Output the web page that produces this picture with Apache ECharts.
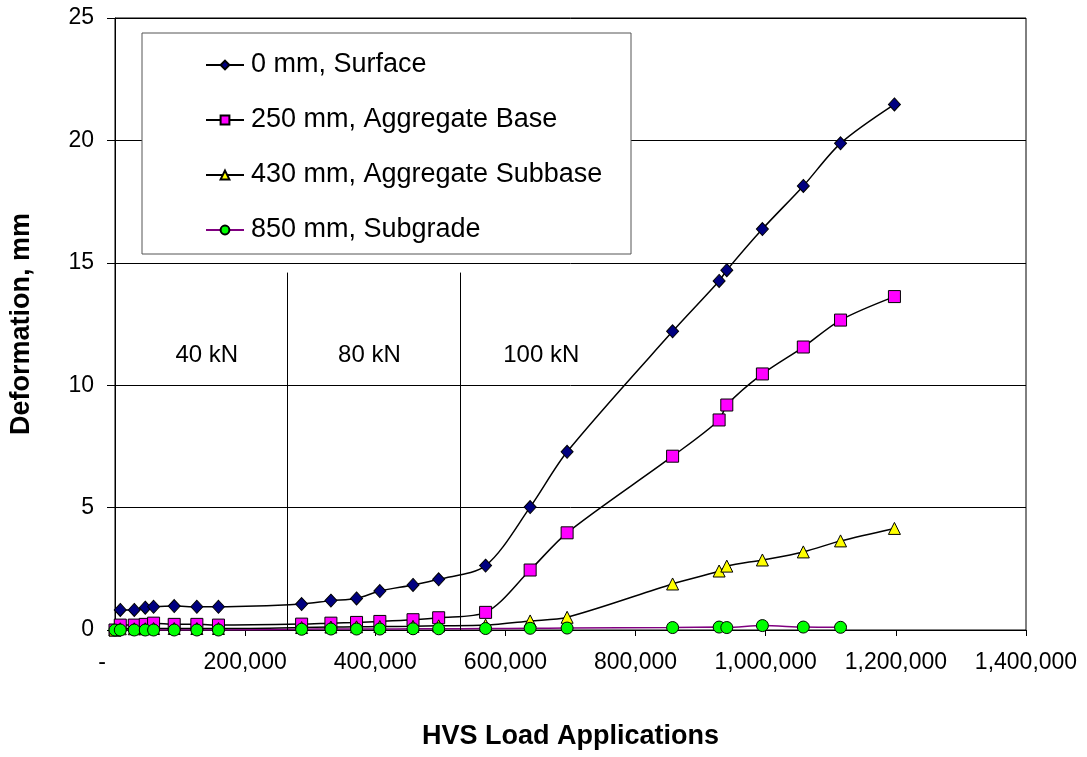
<!DOCTYPE html>
<html>
<head>
<meta charset="utf-8">
<script src="https://cdn.jsdelivr.net/npm/echarts@6/dist/echarts.min.js"></script>
<style>
  html, body { margin: 0; padding: 0; background: #fff; }
  #chart { width: 1087px; height: 757px; }
</style>
</head>
<body>
<div id="chart"></div>
<script>
// HVS load applications at each reading
var loadSurface = [8100, 29600, 46500, 59300, 91000, 125800, 159000, 286800, 331800, 371200, 407000, 458000, 497400,
    569500, 638000, 694800, 856900, 928400, 940200, 994900, 1057800, 1115000, 1197800];
var loadBase = [0, 8100, 29600, 46500, 59300, 91000, 125800, 159000, 286800, 331800, 371200, 407000, 458000, 497400,
    569500, 638000, 694800, 856900, 928400, 940200, 994900, 1057800, 1115000, 1197800];
var loadSubgrade = [0, 8100, 29600, 46500, 59300, 91000, 125800, 159000, 286800, 331800, 371200, 407000, 458000, 497400,
    569500, 638000, 694800, 856900, 928400, 940200, 994900, 1057800, 1115000];

// deformation, mm
var surface = [0.82, 0.82, 0.91, 0.95, 0.98, 0.95, 0.95, 1.06, 1.2, 1.29, 1.59, 1.84, 2.07,
    2.63, 5.02, 7.28, 12.2, 14.26, 14.7, 16.38, 18.14, 19.88, 21.47];
var aggBase = [0, 0.2, 0.2, 0.23, 0.28, 0.23, 0.23, 0.2, 0.24, 0.28, 0.31, 0.35, 0.42, 0.5,
    0.72, 2.45, 3.97, 7.1, 8.58, 9.19, 10.46, 11.56, 12.66, 13.62];
var aggSubbase = [0, 0.05, 0.05, 0.05, 0.06, 0.06, 0.06, 0.06, 0.1, 0.12, 0.13, 0.14, 0.15, 0.17,
    0.2, 0.37, 0.52, 1.88, 2.41, 2.61, 2.86, 3.19, 3.64, 4.15];
var subgrade = [0, 0, 0, 0, 0, 0, 0, 0, 0.03, 0.04, 0.04, 0.04, 0.05, 0.05,
    0.06, 0.07, 0.08, 0.1, 0.12, 0.1, 0.18, 0.12, 0.11];

var seriesNames = ['0 mm, Surface', '250 mm, Aggregate Base', '430 mm, Aggregate Subbase', '850 mm, Subgrade'];

// load level changes
var dividerX = [264000, 530000];
var dividerTop = 14.6;
var loadLevels = ['40 kN', '80 kN', '100 kN'];
var loadLevelX = [141000, 391000, 655000];
var loadLevelY = 11.2;

function pairs(xs, ys) {
    var out = [];
    for (var i = 0; i < xs.length; i++) out.push([xs[i], ys[i]]);
    return out;
}

var myChart = echarts.init(document.getElementById('chart'));
var font = '"Liberation Sans", Arial, sans-serif';

var option = {
    backgroundColor: '#fff',
    textStyle: { fontFamily: font, color: '#000' },
    animation: false,
    grid: {
        left: 113, right: 61, top: 18, bottom: 127,
        show: true, borderColor: '#000', borderWidth: 1
    },
    graphic: [{
        type: 'rect', z: 3,
        shape: { x: 142, y: 33, width: 489, height: 221 },
        style: { fill: '#fff', stroke: '#555', lineWidth: 1 }
    }],
    legend: {
        z: 4,
        orient: 'vertical',
        left: 200, top: 46,
        itemWidth: 38, itemHeight: 11,
        itemGap: 27,
        data: seriesNames,
        textStyle: { fontSize: 27, lineHeight: 28, fontFamily: font, color: '#000', padding: [0, 0, 0, 2] }
    },
    xAxis: {
        type: 'value',
        min: 0, max: 1400000, interval: 200000,
        name: 'HVS Load Applications',
        nameLocation: 'middle',
        nameGap: 93,
        nameTextStyle: { fontSize: 27, fontWeight: 'bold', fontFamily: font, color: '#000' },
        axisLine: { lineStyle: { color: '#000', width: 1 } },
        axisTick: { show: true, length: 6, lineStyle: { color: '#000' } },
        splitLine: { show: false },
        axisLabel: {
            fontSize: 23, color: '#000', margin: 21,
            formatter: function(v) { return v === 0 ? '{d|-}' : v.toLocaleString('en-US'); },
            rich: { d: { fontSize: 23, padding: [0, 26, 0, 0] } }
        }
    },
    yAxis: {
        type: 'value',
        min: 0, max: 25, interval: 5,
        name: 'Deformation, mm',
        nameLocation: 'middle',
        nameGap: 80,
        nameTextStyle: { fontSize: 27, fontWeight: 'bold', fontFamily: font, color: '#000' },
        axisLine: { show: true, lineStyle: { color: '#000', width: 1 } },
        axisTick: { show: true, length: 8, lineStyle: { color: '#000' } },
        splitLine: { show: true, lineStyle: { color: '#000', width: 1 } },
        axisLabel: { fontSize: 23, color: '#000', margin: 21 }
    },
    series: [{
        name: seriesNames[0],
        type: 'line',
        smooth: 0.3,
        data: pairs(loadSurface, surface),
        symbol: 'diamond', symbolSize: [12, 13],
        itemStyle: { color: '#000080', borderColor: '#000', borderWidth: 1 },
        lineStyle: { color: '#000', width: 1.5 },
        markLine: {
            silent: true, symbol: 'none',
            label: { show: false },
            lineStyle: { color: '#000', width: 1, type: 'solid' },
            data: dividerX.map(function(x) {
                return [{ coord: [x, 0] }, { coord: [x, dividerTop] }];
            })
        },
        markPoint: {
            silent: true, symbol: 'circle', symbolSize: 0,
            label: { show: true, formatter: '{b}', fontSize: 24, color: '#000', fontFamily: font },
            data: loadLevels.map(function(t, i) {
                return { name: t, coord: [loadLevelX[i], loadLevelY] };
            })
        }
    }, {
        name: seriesNames[1],
        type: 'line',
        smooth: 0.3,
        data: pairs(loadBase, aggBase),
        symbol: 'rect', symbolSize: 12,
        itemStyle: { color: '#ff00ff', borderColor: '#000', borderWidth: 1 },
        lineStyle: { color: '#000', width: 1.5 }
    }, {
        name: seriesNames[2],
        type: 'line',
        smooth: 0.3,
        data: pairs(loadBase, aggSubbase),
        symbol: 'triangle', symbolSize: 12,
        itemStyle: { color: '#ffff00', borderColor: '#000', borderWidth: 1 },
        lineStyle: { color: '#000', width: 1.5 }
    }, {
        name: seriesNames[3],
        type: 'line',
        smooth: 0.3,
        data: pairs(loadSubgrade, subgrade),
        symbol: 'circle', symbolSize: 12,
        itemStyle: { color: '#00ff00', borderColor: '#000', borderWidth: 1 },
        lineStyle: { color: '#800080', width: 1.5 }
    }]
};

myChart.setOption(option);
</script>
</body>
</html>
